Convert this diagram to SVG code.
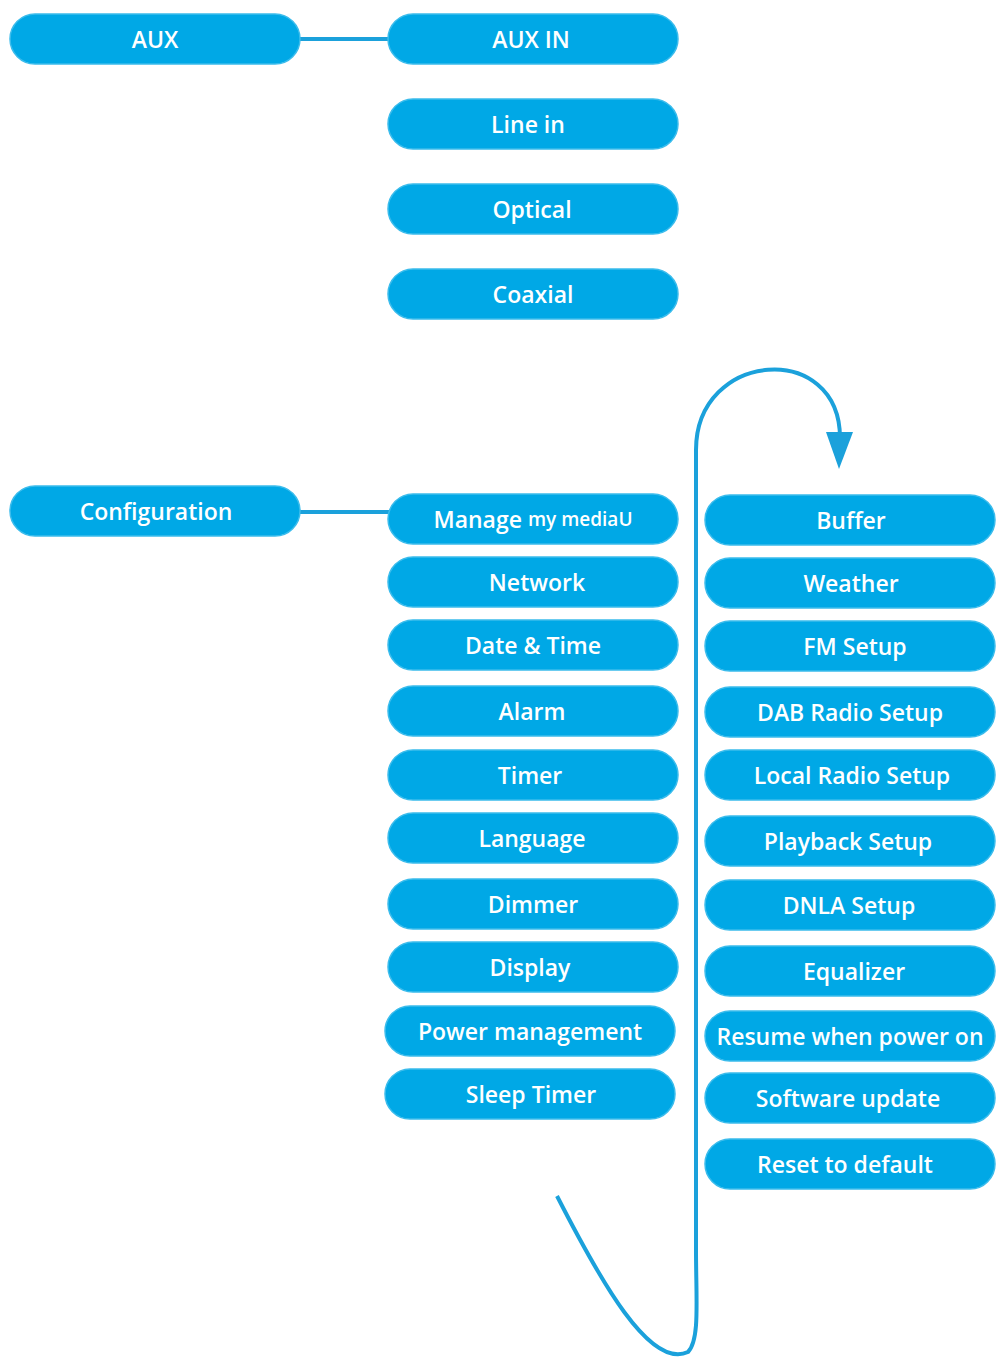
<svg xmlns="http://www.w3.org/2000/svg" width="1004" height="1365" viewBox="0 0 1004 1365">
<style>
.n rect{fill:#00a8e6;stroke:#3bbcec;stroke-width:1.5}
.n text{fill:#fff;font-family:"Open Sans","DejaVu Sans",sans-serif;font-weight:600;font-size:23px;text-anchor:middle;dominant-baseline:central}
.c{stroke:#1ba1db;stroke-width:4;fill:none}
</style>
<rect width="1004" height="1365" fill="#fff"/>
<g id="connectors">
<line class="c" x1="298" y1="39" x2="390" y2="39"/>
<line class="c" x1="298" y1="512" x2="390" y2="512"/>
<path class="c" d="M557,1196 C600,1280 650,1370 688,1352 C700,1340 696,1300 696,1250 L696,450 C696,350 840,340 840,438"/>
<polygon points="826,432 853,432 839,469" fill="#1ba1db"/>
</g>
<g id="aux" class="n"><rect x="10" y="14" width="290" height="50" rx="25"/><text x="155" y="39">AUX</text></g>
<g id="auxin" class="n"><rect x="388" y="14" width="290" height="50" rx="25"/><text x="531" y="39">AUX IN</text></g>
<g id="linein" class="n"><rect x="388" y="99" width="290" height="50" rx="25"/><text x="528" y="124">Line in</text></g>
<g id="optical" class="n"><rect x="388" y="184" width="290" height="50" rx="25"/><text x="532" y="209">Optical</text></g>
<g id="coaxial" class="n"><rect x="388" y="269" width="290" height="50" rx="25"/><text x="533" y="294">Coaxial</text></g>
<g id="config" class="n"><rect x="10" y="486" width="290" height="50" rx="25"/><text x="156" y="511">Configuration</text></g>
<g id="manage" class="n"><rect x="388" y="494" width="290" height="50" rx="25"/><text x="533" y="519">Manage <tspan font-size="19">my mediaU</tspan></text></g>
<g id="network" class="n"><rect x="388" y="557" width="290" height="50" rx="25"/><text x="537" y="582">Network</text></g>
<g id="datetime" class="n"><rect x="388" y="620" width="290" height="50" rx="25"/><text x="533" y="645">Date &amp; Time</text></g>
<g id="alarm" class="n"><rect x="388" y="686" width="290" height="50" rx="25"/><text x="532" y="711">Alarm</text></g>
<g id="timer" class="n"><rect x="388" y="750" width="290" height="50" rx="25"/><text x="530" y="775">Timer</text></g>
<g id="language" class="n"><rect x="388" y="813" width="290" height="50" rx="25"/><text x="532" y="838">Language</text></g>
<g id="dimmer" class="n"><rect x="388" y="879" width="290" height="50" rx="25"/><text x="533" y="904">Dimmer</text></g>
<g id="display" class="n"><rect x="388" y="942" width="290" height="50" rx="25"/><text x="530" y="967">Display</text></g>
<g id="power" class="n"><rect x="385" y="1006" width="290" height="50" rx="25"/><text x="530" y="1031">Power management</text></g>
<g id="sleep" class="n"><rect x="385" y="1069" width="290" height="50" rx="25"/><text x="531" y="1094">Sleep Timer</text></g>
<g id="buffer" class="n"><rect x="705" y="495" width="290" height="50" rx="25"/><text x="851" y="520">Buffer</text></g>
<g id="weather" class="n"><rect x="705" y="558" width="290" height="50" rx="25"/><text x="851" y="583">Weather</text></g>
<g id="fm" class="n"><rect x="705" y="621" width="290" height="50" rx="25"/><text x="855" y="646">FM Setup</text></g>
<g id="dab" class="n"><rect x="705" y="687" width="290" height="50" rx="25"/><text x="850" y="712">DAB Radio Setup</text></g>
<g id="local" class="n"><rect x="705" y="750" width="290" height="50" rx="25"/><text x="852" y="775">Local Radio Setup</text></g>
<g id="playback" class="n"><rect x="705" y="816" width="290" height="50" rx="25"/><text x="848" y="841">Playback Setup</text></g>
<g id="dnla" class="n"><rect x="705" y="880" width="290" height="50" rx="25"/><text x="849" y="905">DNLA Setup</text></g>
<g id="equalizer" class="n"><rect x="705" y="946" width="290" height="50" rx="25"/><text x="854" y="971">Equalizer</text></g>
<g id="resume" class="n"><rect x="705" y="1011" width="290" height="50" rx="25"/><text x="850" y="1036" font-size="19">Resume when power on</text></g>
<g id="software" class="n"><rect x="705" y="1073" width="290" height="50" rx="25"/><text x="848" y="1098">Software update</text></g>
<g id="reset" class="n"><rect x="705" y="1139" width="290" height="50" rx="25"/><text x="845" y="1164">Reset to default</text></g>
</svg>
